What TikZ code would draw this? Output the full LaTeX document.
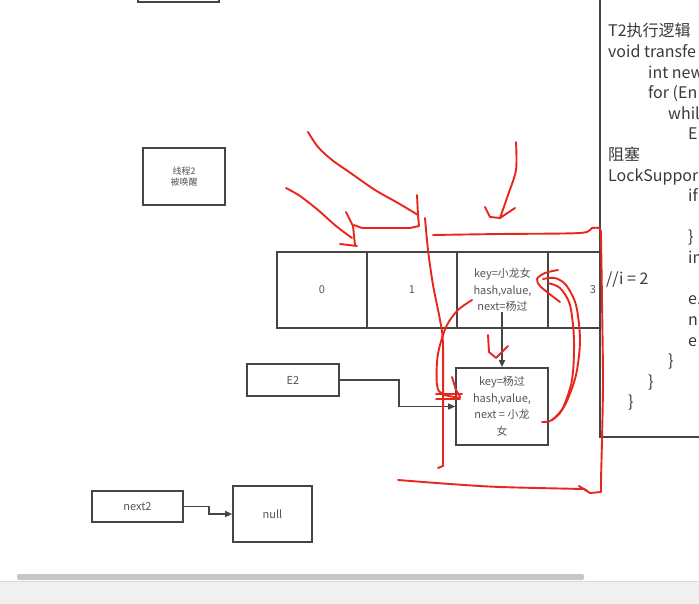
\documentclass[tikz,border=0pt]{standalone}
\usepackage{fontspec}
\setmainfont{Noto Sans CJK SC}
\usetikzlibrary{arrows.meta}
\definecolor{boxline}{HTML}{454545}
\definecolor{textgray}{HTML}{555555}
\definecolor{codegray}{HTML}{3A3A3A}
\definecolor{pen}{HTML}{E8261C}
\definecolor{barbg}{HTML}{F0F0F0}
\definecolor{barfg}{HTML}{C6C6C6}
\begin{document}
\begin{tikzpicture}[x=1pt,y=-1pt,
  box/.style={draw=boxline, line width=1.6pt, fill=white, inner sep=0pt, text=textgray, align=center, font=\fontsize{11}{16.5}\selectfont},
  smallbox/.style={box, font=\fontsize{9}{11}\selectfont},
  conn/.style={draw=boxline, line width=1.4pt, -{Triangle[length=7pt,width=6pt]}},
  codeline/.style={anchor=base west, inner sep=0pt, text=codegray, font=\fontsize{16}{20}\selectfont},
  ink/.style={draw=pen, line width=1.9pt, line cap=round, line join=round}]
\useasboundingbox (0,0) rectangle (699,604);
\clip (0,0) rectangle (699,604);
\fill[white] (0,0) rectangle (699,604);

% boxes
\node[box, minimum width=81pt, minimum height=24pt] (top) at (178.5,-10) {};
\node[smallbox, minimum width=82pt, minimum height=57pt] (th2) at (184,176.5) {线程2\\被唤醒};
\node[box, minimum width=91pt, minimum height=76pt] (c3) at (593,290) {3};
\node[box, minimum width=90pt, minimum height=76pt] (c0) at (322,290) {0};
\node[box, minimum width=90pt, minimum height=76pt] (c1) at (412,290) {1};
\node[box, minimum width=91pt, minimum height=76pt] (c2) at (502.5,290) {key=小龙女\\hash,value,\\next=杨过};
\node[box, minimum width=92pt, minimum height=77pt] (yg) at (502,406.5) {key=杨过\\hash,value,\\next = 小龙\\女};
\node[box, minimum width=92pt, minimum height=32pt] (e2) at (293,380) {E2};
\node[box, minimum width=91pt, minimum height=31pt] (n2) at (137.5,506.5) {next2};
\node[box, minimum width=79pt, minimum height=56pt] (nul) at (272.5,514) {null};

% connectors
\coordinate (k2s) at (502,312);
\draw[conn] (k2s) -- (yg.north);
\draw[conn] (e2.east) -- ++(59,0) |- (yg.west);
\draw[conn] (n2.east) -- ++(25,0) |- (nul.west);

% code panel
\path[fill=white, draw=boxline, line width=1.6pt] (600,-5) -- (600,437) -- (710,437);
\node[codeline] at (608,37) {T2执行逻辑};
\node[codeline] at (608,57.6) {void transfe};
\node[codeline] at (648,78.2) {int new};
\node[codeline] at (648,98.8) {for (En};
\node[codeline] at (668,119.4) {whil};
\node[codeline] at (688,140) {Er};
\node[codeline] at (608,160.6) {阻塞};
\node[codeline] at (608,181.2) {LockSuppor};
\node[codeline] at (688,201.8) {if};
\node[codeline] at (688,243) {\}};
\node[codeline] at (688,263.6) {in};
\node[codeline] at (606,284.2) {//i = 2};
\node[codeline] at (688,304.8) {e.};
\node[codeline] at (688,325.4) {n};
\node[codeline] at (688,346) {e};
\node[codeline] at (668,366.6) {\}};
\node[codeline] at (648,387.2) {\}};
\node[codeline] at (628,407.8) {\}};

% red pen strokes
\draw[ink] plot[smooth] coordinates {(308,132) (318,147) (332,160) (352,174) (375,190) (398,203) (418,215)};
\draw[ink] (417,195) -- (418,215) -- (419,226) -- (410,228) -- (362,228) -- (354,225);
\draw[ink] plot[smooth] coordinates {(286,188) (300,196) (318,210) (336,226) (352,238)};
\draw[ink] (346,212) -- (353,226) -- (355,245);
\draw[ink] (340,244) -- (357,246);
\draw[ink] plot[smooth] coordinates {(425,218) (428,250) (433,285) (440,320) (443,345) (443,420) (443,466)} -- (438,468);
\draw[ink] plot[smooth] coordinates {(472,300) (458,310) (447,325) (440,345) (437,362) (437,385) (442,394) (460,398)};
\draw[ink] (452,377) -- (456,390) -- (460,397);
\draw[ink] (436,394) -- (462,394);
\draw[ink] (436,399) -- (460,399);
\draw[ink] plot[smooth] coordinates {(433,235) (500,234) (580,233) (592,228) (600,229) (601,240) (602,300) (603,380) (602,440) (601,480) (601,492)} -- (590,493) -- (584,489);
\draw[ink] plot[smooth] coordinates {(398,480) (450,484) (500,487) (583,489)};
\draw[ink] (579,486) -- (587,491);
\draw[ink] plot[smooth] coordinates {(516,142) (516,170) (508,195) (500,218)};
\draw[ink] (485,207) -- (490,217) -- (500,218) -- (515,208);
\draw[ink] (488,335) -- (489,352) -- (496,358) -- (508,346);
\draw[ink] plot[smooth] coordinates {(542,422) (552,420) (565,405) (576,375) (580,340) (576,305) (566,285) (555,278) (543,279)};
\draw[ink] plot[smooth] coordinates {(552,420) (562,410) (572,380) (574,340) (570,305) (560,288) (548,283)};
\draw[ink] plot[smooth] coordinates {(558,270) (545,273) (537,279) (541,287) (560,302)};

% bottom scroll area
\fill[barbg] (0,581) rectangle (699,604);
\draw[barbg!80!gray, line width=0.6pt] (0,581) -- (699,581);
\fill[barfg, rounded corners=2pt] (17,574) rectangle (584,580);
\end{tikzpicture}
\end{document}
